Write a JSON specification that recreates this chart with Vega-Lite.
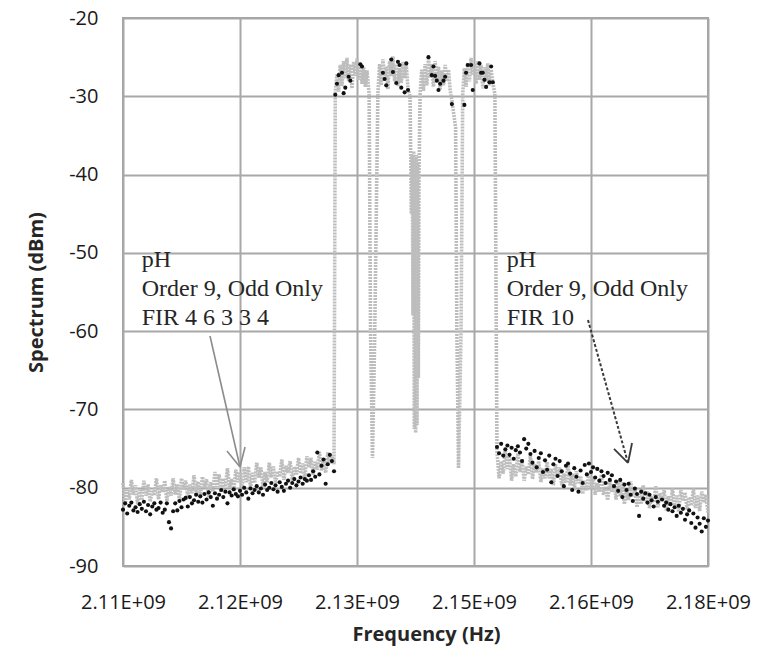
{
  "$schema": "https://vega.github.io/schema/vega-lite/v6.json",
  "width": 585,
  "height": 548,
  "autosize": "none",
  "padding": {"left": 123, "top": 18, "right": 56, "bottom": 93},
  "background": "white",
  "datasets": {
    "spectrum": [
      {"mhz":2106.00,"g":-79.4,"b":-82.8},{"mhz":2106.25,"g":-82.2,"b":-82.0},{"mhz":2106.50,"g":-80.3,"b":-83.3},{"mhz":2106.75,"g":-81.5,"b":-82.3},
      {"mhz":2107.00,"g":-79.0,"b":-81.9},{"mhz":2107.25,"g":-80.9,"b":-82.9},{"mhz":2107.50,"g":-79.7,"b":-82.5},{"mhz":2107.75,"g":-82.1,"b":-83.1},
      {"mhz":2108.00,"g":-80.3,"b":-82.1},{"mhz":2108.25,"g":-81.6,"b":-82.7},{"mhz":2108.50,"g":-79.1,"b":-81.8},{"mhz":2108.75,"g":-81.0,"b":-83.0},
      {"mhz":2109.00,"g":-79.6,"b":-82.2},{"mhz":2109.25,"g":-81.8,"b":-83.4},{"mhz":2109.50,"g":-80.3,"b":-82.4},{"mhz":2109.75,"g":-81.0,"b":-82.0},
      {"mhz":2110.00,"g":-78.8,"b":-82.8},{"mhz":2110.25,"g":-81.5,"b":-82.6},{"mhz":2110.50,"g":-79.7,"b":-81.9},{"mhz":2110.75,"g":-80.6,"b":-83.2},
      {"mhz":2111.00,"g":-79.1,"b":-82.8},{"mhz":2111.25,"g":-81.7,"b":-82.0},{"mhz":2111.50,"g":-79.9,"b":-84.4},{"mhz":2111.75,"g":-81.0,"b":-85.2},
      {"mhz":2112.00,"g":-78.8,"b":-83.0},{"mhz":2112.25,"g":-80.9,"b":-82.0},{"mhz":2112.50,"g":-79.6,"b":-82.9},{"mhz":2112.75,"g":-81.6,"b":-81.7},
      {"mhz":2113.00,"g":-78.8,"b":-82.5},{"mhz":2113.25,"g":-80.2,"b":-81.5},{"mhz":2113.50,"g":-79.1,"b":-81.3},{"mhz":2113.75,"g":-81.2,"b":-82.4},
      {"mhz":2114.00,"g":-79.6,"b":-81.2},{"mhz":2114.25,"g":-80.7,"b":-82.0},{"mhz":2114.50,"g":-78.4,"b":-81.6},{"mhz":2114.75,"g":-80.8,"b":-80.9},
      {"mhz":2115.00,"g":-79.2,"b":-81.8},{"mhz":2115.25,"g":-81.2,"b":-81.1},{"mhz":2115.50,"g":-78.6,"b":-81.9},{"mhz":2115.75,"g":-80.0,"b":-80.8},
      {"mhz":2116.00,"g":-78.9,"b":-81.5},{"mhz":2116.25,"g":-81.2,"b":-80.6},{"mhz":2116.50,"g":-79.3,"b":-81.2},{"mhz":2116.75,"g":-80.5,"b":-82.3},
      {"mhz":2117.00,"g":-78.0,"b":-80.7},{"mhz":2117.25,"g":-79.9,"b":-81.4},{"mhz":2117.50,"g":-78.3,"b":-80.9},{"mhz":2117.75,"g":-80.5,"b":-80.3},
      {"mhz":2118.00,"g":-78.8,"b":-81.2},{"mhz":2118.25,"g":-79.9,"b":-80.5},{"mhz":2118.50,"g":-77.5,"b":-82.0},{"mhz":2118.75,"g":-80.0,"b":-80.6},
      {"mhz":2119.00,"g":-78.9,"b":-81.0},{"mhz":2119.25,"g":-80.5,"b":-80.2},{"mhz":2119.50,"g":-77.7,"b":-80.8},{"mhz":2119.75,"g":-79.3,"b":-81.1},
      {"mhz":2120.00,"g":-78.0,"b":-80.4},{"mhz":2120.25,"g":-79.9,"b":-80.9},{"mhz":2120.50,"g":-77.4,"b":-80.0},{"mhz":2120.75,"g":-79.3,"b":-80.6},
      {"mhz":2121.00,"g":-77.3,"b":-81.4},{"mhz":2121.25,"g":-80.1,"b":-80.1},{"mhz":2121.50,"g":-78.1,"b":-80.7},{"mhz":2121.75,"g":-79.4,"b":-80.3},
      {"mhz":2122.00,"g":-76.8,"b":-79.8},{"mhz":2122.25,"g":-78.7,"b":-80.6},{"mhz":2122.50,"g":-77.4,"b":-80.1},{"mhz":2122.75,"g":-79.9,"b":-80.9},
      {"mhz":2123.00,"g":-78.0,"b":-79.6},{"mhz":2123.25,"g":-79.3,"b":-80.3},{"mhz":2123.50,"g":-76.8,"b":-80.0},{"mhz":2123.75,"g":-78.7,"b":-79.4},
      {"mhz":2124.00,"g":-77.3,"b":-80.2},{"mhz":2124.25,"g":-79.4,"b":-79.7},{"mhz":2124.50,"g":-77.9,"b":-80.5},{"mhz":2124.75,"g":-78.6,"b":-79.3},
      {"mhz":2125.00,"g":-76.4,"b":-79.9},{"mhz":2125.25,"g":-79.0,"b":-80.4},{"mhz":2125.50,"g":-77.2,"b":-79.5},{"mhz":2125.75,"g":-78.1,"b":-79.1},
      {"mhz":2126.00,"g":-76.6,"b":-80.0},{"mhz":2126.25,"g":-79.1,"b":-79.4},{"mhz":2126.50,"g":-77.3,"b":-78.9},{"mhz":2126.75,"g":-78.4,"b":-79.7},
      {"mhz":2127.00,"g":-76.2,"b":-79.2},{"mhz":2127.25,"g":-78.2,"b":-78.7},{"mhz":2127.50,"g":-76.9,"b":-79.5},{"mhz":2127.75,"g":-78.9,"b":-78.9},
      {"mhz":2128.00,"g":-76.0,"b":-79.1},{"mhz":2128.25,"g":-77.4,"b":-78.4},{"mhz":2128.50,"g":-76.2,"b":-79.0},{"mhz":2128.75,"g":-78.4,"b":-77.9},
      {"mhz":2129.00,"g":-76.7,"b":-78.6},{"mhz":2129.25,"g":-77.7,"b":-75.5},{"mhz":2129.50,"g":-75.4,"b":-78.3},{"mhz":2129.75,"g":-77.8,"b":-77.2},
      {"mhz":2130.00,"g":-76.2,"b":-76.4},{"mhz":2130.25,"g":-78.1,"b":-79.5},{"mhz":2130.50,"g":-75.5,"b":-77.0},{"mhz":2130.75,"g":-76.9,"b":-75.8},
      {"mhz":2131.00,"g":-75.8,"b":-76.6},{"mhz":2131.25,"g":-77.0,"b":-77.9},

      {"mhz":2131.40,"g":-29.5,"b":-29.8},{"mhz":2131.60,"g":-27.2,"b":-28.4},{"mhz":2131.80,"g":-29.4,"b":-27.3},{"mhz":2132.00,"g":-26.0},
      {"mhz":2132.20,"g":-28.7,"b":-27.0},{"mhz":2132.40,"g":-25.5,"b":-29.6},{"mhz":2132.60,"g":-27.7,"b":-28.9},{"mhz":2132.80,"g":-25.1},
      {"mhz":2133.00,"g":-28.1,"b":-27.5},{"mhz":2133.20,"g":-25.9,"b":-28.0},{"mhz":2133.40,"g":-29.0},{"mhz":2133.60,"g":-25.6},
      {"mhz":2133.80,"g":-27.4},{"mhz":2134.00,"g":-25.2},{"mhz":2134.20,"g":-27.9},{"mhz":2134.40,"g":-25.8,"b":-25.9},
      {"mhz":2134.60,"g":-28.4,"b":-26.2},{"mhz":2134.80,"g":-26.3},{"mhz":2135.00,"g":-28.8},{"mhz":2135.20,"g":-26.7},
      {"mhz":2135.45,"g":-29.7},
      {"mhz":2135.62,"g":-60.0},{"mhz":2135.85,"g":-76.2},{"mhz":2136.10,"g":-62.0},
      {"mhz":2136.50,"g":-29.7},{"mhz":2136.70,"g":-25.9},{"mhz":2136.90,"g":-28.6},{"mhz":2137.10,"g":-25.3,"b":-27.0},
      {"mhz":2137.30,"g":-28.0,"b":-27.8},{"mhz":2137.50,"g":-26.2,"b":-28.6},{"mhz":2137.70,"g":-29.1},{"mhz":2137.90,"g":-25.5},
      {"mhz":2138.10,"g":-27.4,"b":-25.3},{"mhz":2138.30,"g":-24.9,"b":-26.9},{"mhz":2138.50,"g":-28.1},{"mhz":2138.70,"g":-25.9,"b":-28.3},
      {"mhz":2138.90,"g":-28.7,"b":-25.6},{"mhz":2139.10,"g":-26.4,"b":-26.0},{"mhz":2139.30,"g":-28.3,"b":-28.9},{"mhz":2139.50,"g":-25.6},
      {"mhz":2139.70,"g":-27.7,"b":-29.5},{"mhz":2139.90,"g":-26.0,"b":-25.8},{"mhz":2140.10,"g":-29.0,"b":-29.2},{"mhz":2140.35,"g":-30.0},
      {"mhz":2140.50,"g":-45.0},{"mhz":2140.60,"g":-37.5},{"mhz":2140.70,"g":-58.0},{"mhz":2140.78,"g":-37.0},
      {"mhz":2140.86,"g":-72.5},{"mhz":2140.94,"g":-38.0},{"mhz":2141.02,"g":-73.0},{"mhz":2141.10,"g":-37.5},
      {"mhz":2141.18,"g":-72.0},{"mhz":2141.26,"g":-38.5},{"mhz":2141.34,"g":-66.0},{"mhz":2141.42,"g":-40.0},
      {"mhz":2141.55,"g":-29.7},{"mhz":2141.75,"g":-26.6},{"mhz":2141.95,"g":-29.3},{"mhz":2142.15,"g":-25.9},
      {"mhz":2142.35,"g":-28.6},{"mhz":2142.55,"g":-25.2,"b":-25.0},{"mhz":2142.75,"g":-27.6},{"mhz":2142.95,"g":-25.9,"b":-27.3},
      {"mhz":2143.15,"g":-28.8,"b":-26.2},{"mhz":2143.35,"g":-25.5,"b":-27.4},{"mhz":2143.55,"g":-28.0,"b":-28.0},{"mhz":2143.75,"g":-26.2,"b":-29.2},
      {"mhz":2143.95,"g":-29.1,"b":-28.4},{"mhz":2144.15,"g":-26.7},{"mhz":2144.35,"g":-28.6,"b":-28.0},{"mhz":2144.55,"g":-26.0,"b":-27.5},
      {"mhz":2144.75,"g":-28.1},{"mhz":2144.95,"g":-26.6},{"mhz":2145.15,"g":-29.3},{"mhz":2145.35,"g":-30.5,"b":-31.0},
      {"mhz":2145.80,"g":-34.0},{"mhz":2145.95,"g":-60.0},{"mhz":2146.15,"g":-77.5},{"mhz":2146.45,"g":-60.0},
      {"mhz":2146.65,"g":-29.7},{"mhz":2146.85,"g":-26.4,"b":-31.1},{"mhz":2147.05,"g":-28.8,"b":-27.0},{"mhz":2147.25,"g":-25.8,"b":-26.0},
      {"mhz":2147.45,"g":-28.1},{"mhz":2147.65,"g":-25.1,"b":-26.0},{"mhz":2147.85,"g":-27.3,"b":-29.2},{"mhz":2148.05,"g":-25.8},
      {"mhz":2148.25,"g":-28.4},{"mhz":2148.45,"g":-25.5},{"mhz":2148.65,"g":-27.9,"b":-25.8},{"mhz":2148.85,"g":-26.0,"b":-27.0},
      {"mhz":2149.05,"g":-29.0,"b":-27.0},{"mhz":2149.25,"g":-26.3,"b":-27.9},{"mhz":2149.45,"g":-28.1,"b":-28.8},{"mhz":2149.65,"g":-25.8},
      {"mhz":2149.85,"g":-28.6,"b":-28.2},{"mhz":2150.05,"g":-26.6,"b":-26.2},{"mhz":2150.25,"g":-28.3,"b":-28.2},{"mhz":2150.50,"g":-29.7},

      {"mhz":2150.75,"g":-75.4,"b":-74.8},{"mhz":2151.00,"g":-78.8,"b":-75.6},{"mhz":2151.25,"g":-76.6,"b":-74.4},{"mhz":2151.50,"g":-78.2,"b":-75.9},
      {"mhz":2151.75,"g":-75.2,"b":-75.1},{"mhz":2152.00,"g":-77.6,"b":-74.6},{"mhz":2152.25,"g":-76.1,"b":-75.8},{"mhz":2152.50,"g":-79.1,"b":-74.9},
      {"mhz":2152.75,"g":-77.0,"b":-76.3},{"mhz":2153.00,"g":-78.6,"b":-75.2},{"mhz":2153.25,"g":-75.6,"b":-74.7},{"mhz":2153.50,"g":-78.0,"b":-75.5},
      {"mhz":2153.75,"g":-76.4,"b":-76.6},{"mhz":2154.00,"g":-79.1,"b":-73.8},{"mhz":2154.25,"g":-77.3,"b":-75.0},{"mhz":2154.50,"g":-78.3,"b":-74.4},
      {"mhz":2154.75,"g":-75.9,"b":-75.7},{"mhz":2155.00,"g":-78.9,"b":-76.8},{"mhz":2155.25,"g":-77.0,"b":-75.3},{"mhz":2155.50,"g":-78.1,"b":-77.4},
      {"mhz":2155.75,"g":-76.6,"b":-76.2},{"mhz":2156.00,"g":-79.3,"b":-75.6},{"mhz":2156.25,"g":-77.5,"b":-78.0},{"mhz":2156.50,"g":-78.8,"b":-76.5},
      {"mhz":2156.75,"g":-76.7,"b":-77.7},{"mhz":2157.00,"g":-78.8,"b":-75.9},{"mhz":2157.25,"g":-77.6,"b":-79.3},{"mhz":2157.50,"g":-79.7,"b":-77.0},
      {"mhz":2157.75,"g":-77.0,"b":-76.3},{"mhz":2158.00,"g":-78.4,"b":-78.5},{"mhz":2158.25,"g":-77.4,"b":-76.6},{"mhz":2158.50,"g":-79.7,"b":-77.9},
      {"mhz":2158.75,"g":-78.2,"b":-79.8},{"mhz":2159.00,"g":-79.4,"b":-77.2},{"mhz":2159.25,"g":-77.1,"b":-76.9},{"mhz":2159.50,"g":-79.7,"b":-78.2},
      {"mhz":2159.75,"g":-78.2,"b":-80.3},{"mhz":2160.00,"g":-80.3,"b":-77.5},{"mhz":2160.25,"g":-77.9,"b":-78.6},{"mhz":2160.50,"g":-79.4,"b":-80.5},
      {"mhz":2160.75,"g":-78.5,"b":-77.8},{"mhz":2161.00,"g":-80.8,"b":-79.4},{"mhz":2161.25,"g":-79.1,"b":-77.1},{"mhz":2161.50,"g":-80.4,"b":-78.3},
      {"mhz":2161.75,"g":-78.1,"b":-76.9},{"mhz":2162.00,"g":-80.1,"b":-78.0},{"mhz":2162.25,"g":-78.6,"b":-77.4},{"mhz":2162.50,"g":-80.9,"b":-78.7},
      {"mhz":2162.75,"g":-79.4,"b":-77.6},{"mhz":2163.00,"g":-80.5,"b":-79.1},{"mhz":2163.25,"g":-78.3,"b":-77.9},{"mhz":2163.50,"g":-80.9,"b":-78.5},
      {"mhz":2163.75,"g":-79.9,"b":-79.4},{"mhz":2164.00,"g":-81.6,"b":-78.1},{"mhz":2164.25,"g":-79.0,"b":-79.0},{"mhz":2164.50,"g":-80.6,"b":-78.4},
      {"mhz":2164.75,"g":-79.5,"b":-79.8},{"mhz":2165.00,"g":-81.5,"b":-79.2},{"mhz":2165.25,"g":-79.1,"b":-80.4},{"mhz":2165.50,"g":-81.1,"b":-79.0},
      {"mhz":2165.75,"g":-79.3,"b":-81.2},{"mhz":2166.00,"g":-82.1,"b":-79.6},{"mhz":2166.25,"g":-80.3,"b":-80.3},{"mhz":2166.50,"g":-81.6,"b":-79.5},
      {"mhz":2166.75,"g":-79.2,"b":-80.9},{"mhz":2167.00,"g":-81.1,"b":-81.7},{"mhz":2167.25,"g":-80.0,"b":-80.1},{"mhz":2167.50,"g":-82.5,"b":-80.8},
      {"mhz":2167.75,"g":-80.8,"b":-83.6},{"mhz":2168.00,"g":-82.1,"b":-80.5},{"mhz":2168.25,"g":-79.7,"b":-81.4},{"mhz":2168.50,"g":-81.7,"b":-80.7},
      {"mhz":2168.75,"g":-80.4,"b":-81.9},{"mhz":2169.00,"g":-82.6,"b":-80.9},{"mhz":2169.25,"g":-81.1,"b":-81.6},{"mhz":2169.50,"g":-81.9,"b":-82.4},
      {"mhz":2169.75,"g":-79.8,"b":-81.2},{"mhz":2170.00,"g":-82.5,"b":-81.8},{"mhz":2170.25,"g":-80.7,"b":-84.0},{"mhz":2170.50,"g":-81.7,"b":-81.5},
      {"mhz":2170.75,"g":-80.3,"b":-82.3},{"mhz":2171.00,"g":-82.9,"b":-81.9},{"mhz":2171.25,"g":-81.1,"b":-82.8},{"mhz":2171.50,"g":-82.3,"b":-82.1},
      {"mhz":2171.75,"g":-80.1,"b":-83.0},{"mhz":2172.00,"g":-82.3,"b":-82.5},{"mhz":2172.25,"g":-81.0,"b":-83.6},{"mhz":2172.50,"g":-83.1,"b":-82.3},
      {"mhz":2172.75,"g":-80.3,"b":-83.2},{"mhz":2173.00,"g":-81.7,"b":-82.7},{"mhz":2173.25,"g":-80.6,"b":-84.1},{"mhz":2173.50,"g":-82.8,"b":-83.4},
      {"mhz":2173.75,"g":-81.2,"b":-82.9},{"mhz":2174.00,"g":-82.3,"b":-84.5},{"mhz":2174.25,"g":-80.1,"b":-83.3},{"mhz":2174.50,"g":-82.6,"b":-85.1},
      {"mhz":2174.75,"g":-81.0,"b":-83.8},{"mhz":2175.00,"g":-83.0,"b":-84.6},{"mhz":2175.25,"g":-80.5,"b":-85.6},{"mhz":2175.50,"g":-81.9,"b":-83.9},
      {"mhz":2175.75,"g":-80.9,"b":-85.0},{"mhz":2176.00,"g":-83.2,"b":-84.2}
    ],
    "notes": [
      {"mhz": 2108.24, "dbm": -51.81, "label": ["pH", "Order 9, Odd Only", "FIR 4 6 3 3 4"]},
      {"mhz": 2151.91, "dbm": -51.81, "label": ["pH", "Order 9, Odd Only", "FIR 10"]}
    ],
    "arrowLeft": [
      {"mhz": 2116.41, "dbm": -60.62, "mhz2": 2120.0, "dbm2": -77.35},
      {"mhz": 2118.44, "dbm": -75.31, "mhz2": 2120.0, "dbm2": -77.35},
      {"mhz": 2120.60, "dbm": -74.80, "mhz2": 2120.0, "dbm2": -77.35}
    ],
    "arrowRightShaft": [
      {"mhz": 2161.64, "dbm": -58.58, "mhz2": 2166.43, "dbm2": -76.84}
    ],
    "arrowRightHead": [
      {"mhz": 2164.75, "dbm": -75.05, "mhz2": 2166.43, "dbm2": -76.84},
      {"mhz": 2166.91, "dbm": -74.29, "mhz2": 2166.43, "dbm2": -76.84}
    ]
  },
  "layer": [
    {
      "data": {"name": "spectrum"},
      "transform": [{"filter": "isValid(datum.g)"}],
      "mark": {"type": "line", "color": "#bdbdbd", "strokeWidth": 3.6, "strokeDash": [2, 1], "strokeCap": "butt", "interpolate": "linear"},
      "encoding": {
        "x": {
          "field": "mhz", "type": "quantitative", "title": "Frequency (Hz)",
          "scale": {"domain": [2106, 2176], "nice": false, "zero": false},
          "axis": {
            "values": [2106, 2120, 2134, 2148, 2162, 2176],
            "labelExpr": "format(datum.value / 1000, '.2f') + 'E+09'"
          }
        },
        "y": {
          "field": "g", "type": "quantitative", "title": "Spectrum (dBm)",
          "scale": {"domain": [-90, -20], "nice": false, "zero": false},
          "axis": {
            "values": [-90, -80, -70, -60, -50, -40, -30, -20],
            "labelExpr": "'' + datum.value"
          }
        }
      }
    },
    {
      "data": {"name": "spectrum"},
      "transform": [{"filter": "isValid(datum.b)"}],
      "mark": {"type": "circle", "color": "#111111", "size": 17, "opacity": 1},
      "encoding": {
        "x": {"field": "mhz", "type": "quantitative", "title": "Frequency (Hz)"},
        "y": {"field": "b", "type": "quantitative", "title": "Spectrum (dBm)"}
      }
    },
    {
      "data": {"name": "arrowLeft"},
      "mark": {"type": "rule", "color": "#8c8c8c", "strokeWidth": 1.6},
      "encoding": {
        "x": {"field": "mhz", "type": "quantitative", "title": "Frequency (Hz)"},
        "y": {"field": "dbm", "type": "quantitative", "title": "Spectrum (dBm)"},
        "x2": {"field": "mhz2"},
        "y2": {"field": "dbm2"}
      }
    },
    {
      "data": {"name": "arrowRightShaft"},
      "mark": {"type": "rule", "color": "#3a3a3a", "strokeWidth": 2, "strokeDash": [3, 2]},
      "encoding": {
        "x": {"field": "mhz", "type": "quantitative", "title": "Frequency (Hz)"},
        "y": {"field": "dbm", "type": "quantitative", "title": "Spectrum (dBm)"},
        "x2": {"field": "mhz2"},
        "y2": {"field": "dbm2"}
      }
    },
    {
      "data": {"name": "arrowRightHead"},
      "mark": {"type": "rule", "color": "#3a3a3a", "strokeWidth": 1.8},
      "encoding": {
        "x": {"field": "mhz", "type": "quantitative", "title": "Frequency (Hz)"},
        "y": {"field": "dbm", "type": "quantitative", "title": "Spectrum (dBm)"},
        "x2": {"field": "mhz2"},
        "y2": {"field": "dbm2"}
      }
    },
    {
      "data": {"name": "notes"},
      "mark": {"type": "text", "align": "left", "baseline": "alphabetic", "font": "Liberation Serif", "fontSize": 24, "lineHeight": 29, "color": "#262626"},
      "encoding": {
        "x": {"field": "mhz", "type": "quantitative", "title": "Frequency (Hz)"},
        "y": {"field": "dbm", "type": "quantitative", "title": "Spectrum (dBm)"},
        "text": {"field": "label"}
      }
    }
  ],
  "config": {
    "view": {"stroke": "#a3a3a3", "strokeWidth": 2},
    "axis": {
      "domain": false,
      "ticks": false,
      "grid": true,
      "gridColor": "#a8a8a8",
      "gridWidth": 2,
      "labelFont": "Open Sans",
      "labelFontSize": 20,
      "labelColor": "#1a1a1a",
      "titleFont": "Open Sans",
      "titleFontSize": 20,
      "titleFontWeight": "bold",
      "titleColor": "#262626"
    },
    "axisX": {"labelPadding": 26, "titlePadding": 12, "titleX": 303, "labelFlush": false},
    "axisY": {"labelPadding": 25, "titlePadding": 22}
  }
}
